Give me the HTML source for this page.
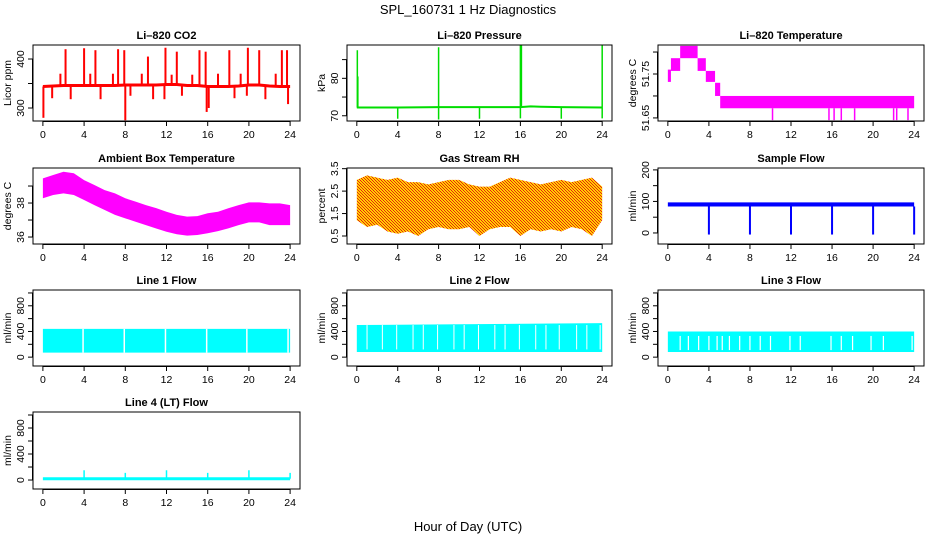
<!DOCTYPE html>
<html><head><meta charset="utf-8"><style>
body{margin:0;background:#fff}
svg{display:block;font-family:"Liberation Sans",sans-serif}
.tt{font-weight:bold;font-size:11px;text-anchor:middle}
.tk{font-size:10.5px;text-anchor:middle}
</style></head><body>
<svg id="c" width="936" height="540" viewBox="0 0 936 540">
<defs><pattern id="rh" width="3" height="3" patternUnits="userSpaceOnUse"><rect width="3" height="3" fill="#ffd000"/><rect width="1" height="1" fill="#e82010"/><rect x="1" y="1" width="1" height="1" fill="#e82010"/><rect x="2" y="2" width="1" height="1" fill="#e82010"/></pattern></defs>
<text x="468" y="14" font-size="13" text-anchor="middle">SPL_160731  1 Hz Diagnostics</text>
<text x="468" y="531" font-size="13" text-anchor="middle">Hour of Day (UTC)</text>
</svg>
<script>
const xTicks=[0,4,8,12,16,20,24];
// CO2
const co2BaseT=[0,1,2,3,4,5,6,7,8,9,10,11,12,13,14,15,16,17,18,19,20,21,22,23,24];
const co2Base=[344,345,346,346,346,346,346,346,347,347,347,347,348,348,346,346,344,344,344,345,347,347,345,344,344];
const co2SpikeT=[2.2,4.0,5.1,7.3,7.9,10.2,11.9,13.0,15.2,15.8,18.1,19.9,21.0,23.2,23.7,1.7,4.6,6.8,9.6,12.5,14.5,17.0,19.2,22.6,0.05,0.9,2.7,5.6,8.0,8.5,10.7,11.8,13.5,15.9,16.1,18.6,19.8,21.6,23.8];
const co2SpikeV=[420,422,418,420,418,405,423,415,418,415,418,423,418,418,418,370,370,370,370,368,368,370,370,370,280,320,318,318,275,325,318,318,325,292,300,320,325,318,308];
// Pressure
const presBaseT=[0,4,8,12,16,17,18,20,24];
const presBase=[72.2,72.2,72.3,72.3,72.3,72.5,72.4,72.3,72.2];
const presSpikeT=[0.05,0.1,8,16,16.1,24,4,8,12,16,20,24];
const presSpikeV=[87.5,80.5,88.3,89,89,89,69.2,69.0,69.2,69.3,69.2,69.3];
// Li-820 temperature
const ltT=[0,0.3,1.2,2.9,3.7,4.6,5.1,24];
const ltLo=[51.732,51.757,51.786,51.757,51.732,51.70,51.672];
const ltHi=[51.76,51.786,51.814,51.786,51.757,51.73,51.70];
const ltDipT=[10.2,15.7,16.2,16.9,18.2,22,22.3,23.4];
// Ambient
const hrs=[0,1,2,3,4,5,6,7,8,9,10,11,12,13,14,15,16,17,18,19,20,21,22,23,24];
const ambHi=[39.45,39.65,39.84,39.75,39.35,39.06,38.76,38.57,38.28,38.08,37.88,37.7,37.49,37.3,37.2,37.23,37.4,37.49,37.69,37.88,38.04,38.04,37.98,37.98,37.88];
const ambLo=[38.28,38.47,38.57,38.47,38.18,37.88,37.59,37.3,37.1,36.9,36.7,36.5,36.31,36.16,36.08,36.12,36.22,36.35,36.51,36.7,36.86,36.86,36.7,36.7,36.7];
// RH
const rhHi=[3.0,3.2,3.1,3.0,3.1,2.9,2.9,2.8,2.9,3.0,3.0,2.8,2.7,2.7,2.9,3.1,3.0,2.9,2.8,2.9,3.0,2.9,3.0,3.1,2.7];
const rhLo=[1.2,0.9,1.0,0.7,0.6,0.7,0.5,0.8,0.9,0.8,0.8,0.9,0.5,0.8,0.9,0.9,0.5,0.8,0.7,0.8,0.7,0.9,0.8,0.5,1.2];
// Sample flow
const sfLo=84, sfHi=97;
const sfDipT=[4,8,12,16,20,24];
const sfDipV=[-5,-5,-5,-5,-5,-5];
// Line flows
const l1Lo=70,l1Hi=440; const l1Gap=[3.9,7.9,11.9,15.9,19.8,23.8];
const l2LoT=[0,24]; const l2Hi=[500,530]; const l2Lo=80; const l2Gap=[3.9,7.9,11.9,15.9,19.8,23.8,1.0,2.5,5.5,6.5,9.5,10.5,13.5,14.5,17.5,18.5,21.5,22.5];
const l3Lo=80,l3Hi=400; const l3Gap=[1.2,2.0,3.0,4.0,4.8,5.3,6.0,7.0,8.0,9.0,10.0,11.9,12.9,15.9,16.9,18.0,19.8,21.0,23.8];
const l4Base=20; const l4SpikeT=[4,8,12,16,20,24]; const l4SpikeV=[150,110,150,110,150,110];

const svg=document.getElementById('c');const NS='http://www.w3.org/2000/svg';
function mk(tag,at,parent){const e=document.createElementNS(NS,tag);for(const k in at)e.setAttribute(k,at[k]);(parent||svg).appendChild(e);return e;}
const cols=[[33,300],[347,612],[658,924]];const rows=[[45,121],[168,244],[290,366],[412,489]];
function panel(c,r,title,ylab,ymin,ymax,yt,ytl,name){
 const [x0,x1]=cols[c],[y0,y1]=rows[r];
 const g=mk('g',{});
 
 
 const sx=t=>x0+(t+0.96)/25.92*(x1-x0);
 const sy=v=>y1-(v-ymin)/(ymax-ymin)*(y1-y0);
 const plot=mk('g',{},g);
 const t=mk('text',{x:(x0+x1)/2,y:y0-6,class:'tt'},g);t.textContent=title;
 
 
 const yl=mk('text',{x:0,y:0,'font-size':'10.5','text-anchor':'middle',transform:`translate(${x0-22},${(y0+y1)/2}) rotate(-90)`},g);yl.textContent=ylab;
 
 
 mk('rect',{x:x0,y:y0,width:x1-x0,height:y1-y0,fill:'none',stroke:'#000','stroke-width':1},g);
 const xa=mk('g',{},g);
 
 
 mk('line',{x1:sx(0),x2:sx(24),y1:y1+0.5,y2:y1+0.5,stroke:'#000'},xa);
 xTicks.forEach(v=>{mk('line',{x1:sx(v),x2:sx(v),y1:y1,y2:y1+5,stroke:'#000'},xa);const tx=mk('text',{x:sx(v),y:y1+17,class:'tk'},xa);tx.textContent=v;});
 const ya=mk('g',{},g);
 
 
 mk('line',{x1:x0-0.5,x2:x0-0.5,y1:sy(yt[0]),y2:sy(yt[yt.length-1]),stroke:'#000'},ya);
 yt.forEach((v,i)=>{mk('line',{x1:x0-5,x2:x0,y1:sy(v),y2:sy(v),stroke:'#000'},ya);if(ytl[i]){const tx=mk('text',{x:0,y:0,class:'tk',transform:`translate(${x0-9},${sy(v)}) rotate(-90)`},ya);tx.textContent=ytl[i];}});
 return {plot,sx,sy};
}
function line(p,a,b,c,d,col,w,nm){const e=mk('line',{x1:a,y1:b,x2:c,y2:d,stroke:col,'stroke-width':w},p);return e;}
function band(P,ts,hi,lo,fill,nm){let pts=ts.map((t,i)=>P.sx(t)+','+P.sy(hi[i]));for(let i=ts.length-1;i>=0;i--)pts.push(P.sx(ts[i])+','+P.sy(lo[i]));const e=mk('polygon',{points:pts.join(' '),fill:fill},P.plot);}
// CO2
let P=panel(0,0,'Li\u2013820 CO2','Licor ppm',273.5,428.6,[300,350,400],['300','','400'],'co2');
const cb=mk('polyline',{points:co2BaseT.map((t,i)=>P.sx(t)+','+P.sy(co2Base[i])).join(' '),fill:'none',stroke:'#f00','stroke-width':3},P.plot);

co2SpikeT.forEach((t,i)=>line(P.plot,P.sx(t),P.sy(co2Base[Math.round(t)]),P.sx(t),P.sy(co2SpikeV[i]),'#f00',2,'co2-spike'));
// Pressure
P=panel(1,0,'Li\u2013820 Pressure','kPa',68.6,88.9,[70,75,80,85],['70','','80',''],'pressure');
const pb=mk('polyline',{points:presBaseT.map((t,i)=>P.sx(t)+','+P.sy(presBase[i])).join(' '),fill:'none',stroke:'#0d0','stroke-width':2},P.plot);

presSpikeT.forEach((t,i)=>line(P.plot,P.sx(t),P.sy(72.2),P.sx(t),P.sy(presSpikeV[i]),'#0d0',1.5,'pressure-spike'));
// Li temp
P=panel(2,0,'Li\u2013820 Temperature','degrees C',51.643,51.816,[51.65,51.70,51.75,51.80],['51.65','','51.75',''],'li820-temp');
for(let i=0;i<ltLo.length;i++){const e=mk('rect',{x:P.sx(ltT[i]),y:P.sy(ltHi[i]),width:P.sx(ltT[i+1])-P.sx(ltT[i]),height:P.sy(ltLo[i])-P.sy(ltHi[i]),fill:'#f0f'},P.plot);}
ltDipT.forEach(t=>line(P.plot,P.sx(t),P.sy(51.672),P.sx(t),P.sy(51.645),'#f0f',1.5,'li820-temp-dip'));
// Ambient
P=panel(0,1,'Ambient Box Temperature','degrees C',35.59,40.06,[36,37,38,39],['36','','38',''],'ambient');
band(P,hrs,ambHi,ambLo,'#f0f','ambient-band');
// RH
P=panel(1,1,'Gas Stream RH','percent',0.143,3.53,[0.5,1.5,2.5,3.5],['0.5','1.5','2.5','3.5'],'rh');
band(P,hrs,rhHi,rhLo,'url(#rh)','rh-band');
// Sample flow
P=panel(2,1,'Sample Flow','ml/min',-35,206,[0,50,100,150,200],['0','','100','','200'],'sample-flow');
band(P,[0,24],[sfHi,sfHi],[sfLo,sfLo],'#00f','sample-flow-band');
sfDipT.forEach((t,i)=>line(P.plot,P.sx(t),P.sy(sfLo),P.sx(t),P.sy(sfDipV[i]),'#00f',2,'sample-flow-dip'));
const lt=[0,200,400,600,800,1000],ltl=['0','','400','','800',''];
// Line 1
P=panel(0,2,'Line 1 Flow','ml/min',-138,1046,lt,ltl,'line1');
band(P,[0,24],[l1Hi,l1Hi],[l1Lo,l1Lo],'#0ff','line1-band');
l1Gap.forEach(t=>line(P.plot,P.sx(t),P.sy(l1Hi),P.sx(t),P.sy(l1Lo),'#fff',1.5,'line1-gap'));
// Line 2
P=panel(1,2,'Line 2 Flow','ml/min',-138,1046,lt,ltl,'line2');
band(P,l2LoT,l2Hi,[l2Lo,l2Lo],'#0ff','line2-band');
l2Gap.forEach(t=>line(P.plot,P.sx(t),P.sy(500),P.sx(t),P.sy(l2Lo+40),'#fff',1,'line2-gap'));
// Line 3
P=panel(2,2,'Line 3 Flow','ml/min',-138,1046,lt,ltl,'line3');
band(P,[0,24],[l3Hi,l3Hi],[l3Lo,l3Lo],'#0ff','line3-band');
l3Gap.forEach(t=>line(P.plot,P.sx(t),P.sy(330),P.sx(t),P.sy(l3Lo+30),'#fff',1.2,'line3-gap'));
// Line 4
P=panel(0,3,'Line 4 (LT) Flow','ml/min',-138,1046,lt,ltl,'line4');
line(P.plot,P.sx(0),P.sy(l4Base),P.sx(24),P.sy(l4Base),'#0ff',3,'line4-line');
l4SpikeT.forEach((t,i)=>line(P.plot,P.sx(t),P.sy(l4Base),P.sx(t),P.sy(l4SpikeV[i]),'#0ff',1.5,'line4-spike'));
</script>
</body></html>
